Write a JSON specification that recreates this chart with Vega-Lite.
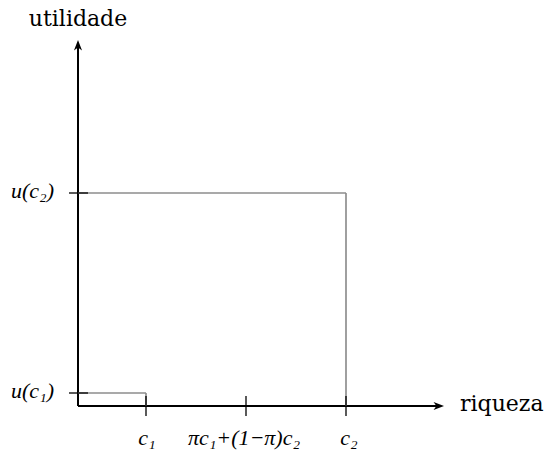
{
  "$schema": "https://vega.github.io/schema/vega-lite/v6.json",
  "width": 551,
  "height": 452,
  "padding": 0,
  "autosize": "none",
  "background": "white",
  "config": {"view": {"stroke": null}},
  "datasets": {
    "segs": [
      {"kind": "axis", "x": 0, "y": 0, "x2": 0, "y2": 3.6},
      {"kind": "axis", "x": 0, "y": 0, "x2": 3.6, "y2": 0},
      {"kind": "guide", "x": 0, "y": 0.13, "x2": 0.68, "y2": 0.13},
      {"kind": "guide", "x": 0.68, "y": 0.13, "x2": 0.68, "y2": 0},
      {"kind": "guide", "x": 0, "y": 2.13, "x2": 2.68, "y2": 2.13},
      {"kind": "guide", "x": 2.68, "y": 2.13, "x2": 2.68, "y2": 0},
      {"kind": "tick", "x": 0.68, "y": -0.1, "x2": 0.68, "y2": 0.1},
      {"kind": "tick", "x": 1.68, "y": -0.1, "x2": 1.68, "y2": 0.1},
      {"kind": "tick", "x": 2.68, "y": -0.1, "x2": 2.68, "y2": 0.1},
      {"kind": "tick", "x": -0.09, "y": 0.13, "x2": 0.1, "y2": 0.13},
      {"kind": "tick", "x": -0.09, "y": 2.13, "x2": 0.1, "y2": 2.13}
    ],
    "arrows": [
      {"x": 0, "y": 3.66, "angle": 0},
      {"x": 3.66, "y": 0, "angle": 90}
    ],
    "xlabels": [
      {"label": "c₁", "x": 0.69},
      {"label": "πc₁+(1−π)c₂", "x": 1.66},
      {"label": "c₂", "x": 2.71}
    ],
    "ylabels": [
      {"label": "u(c₁)", "y": 0.08},
      {"label": "u(c₂)", "y": 2.08}
    ]
  },
  "layer": [
    {
      "data": {"name": "segs"},
      "mark": {"type": "rule"},
      "encoding": {
        "x": {"field": "x", "type": "quantitative", "scale": {"domain": [-0.78, 4.73], "nice": false, "zero": false}, "axis": null},
        "y": {"field": "y", "type": "quantitative", "scale": {"domain": [-0.46, 4.06], "nice": false, "zero": false}, "axis": null},
        "x2": {"field": "x2"},
        "y2": {"field": "y2"},
        "color": {"field": "kind", "type": "nominal", "scale": {"domain": ["axis", "guide", "tick"], "range": ["#000000", "#8c8c8c", "#000000"]}, "legend": null},
        "strokeWidth": {"field": "kind", "type": "nominal", "scale": {"domain": ["axis", "guide", "tick"], "range": [2, 1.3, 1]}, "legend": null}
      }
    },
    {
      "data": {"name": "arrows"},
      "mark": {"type": "point", "filled": true, "color": "black", "opacity": 1, "size": 90, "shape": "M0,0 L0.85,2.2 L0,1.6 L-0.85,2.2 Z"},
      "encoding": {
        "x": {"field": "x", "type": "quantitative"},
        "y": {"field": "y", "type": "quantitative"},
        "angle": {"field": "angle", "type": "quantitative", "scale": null}
      }
    },
    {
      "data": {"name": "xlabels"},
      "mark": {"type": "text", "font": "Liberation Serif", "fontStyle": "italic", "fontSize": 22, "align": "center", "baseline": "alphabetic", "color": "black"},
      "encoding": {
        "x": {"field": "x", "type": "quantitative"},
        "y": {"datum": -0.39, "type": "quantitative"},
        "text": {"field": "label"}
      }
    },
    {
      "data": {"name": "ylabels"},
      "mark": {"type": "text", "font": "Liberation Serif", "fontStyle": "italic", "fontSize": 22, "align": "right", "baseline": "alphabetic", "color": "black"},
      "encoding": {
        "x": {"datum": -0.24, "type": "quantitative"},
        "y": {"field": "y", "type": "quantitative"},
        "text": {"field": "label"}
      }
    },
    {
      "data": {"values": [{"label": "utilidade", "x": 0, "y": 3.8}]},
      "mark": {"type": "text", "font": "DejaVu Serif", "fontSize": 22, "align": "center", "baseline": "alphabetic", "color": "black"},
      "encoding": {
        "x": {"field": "x", "type": "quantitative"},
        "y": {"field": "y", "type": "quantitative"},
        "text": {"field": "label"}
      }
    },
    {
      "data": {"values": [{"label": "riqueza", "x": 3.82, "y": -0.05}]},
      "mark": {"type": "text", "font": "DejaVu Serif", "fontSize": 22, "align": "left", "baseline": "alphabetic", "color": "black"},
      "encoding": {
        "x": {"field": "x", "type": "quantitative"},
        "y": {"field": "y", "type": "quantitative"},
        "text": {"field": "label"}
      }
    }
  ]
}
